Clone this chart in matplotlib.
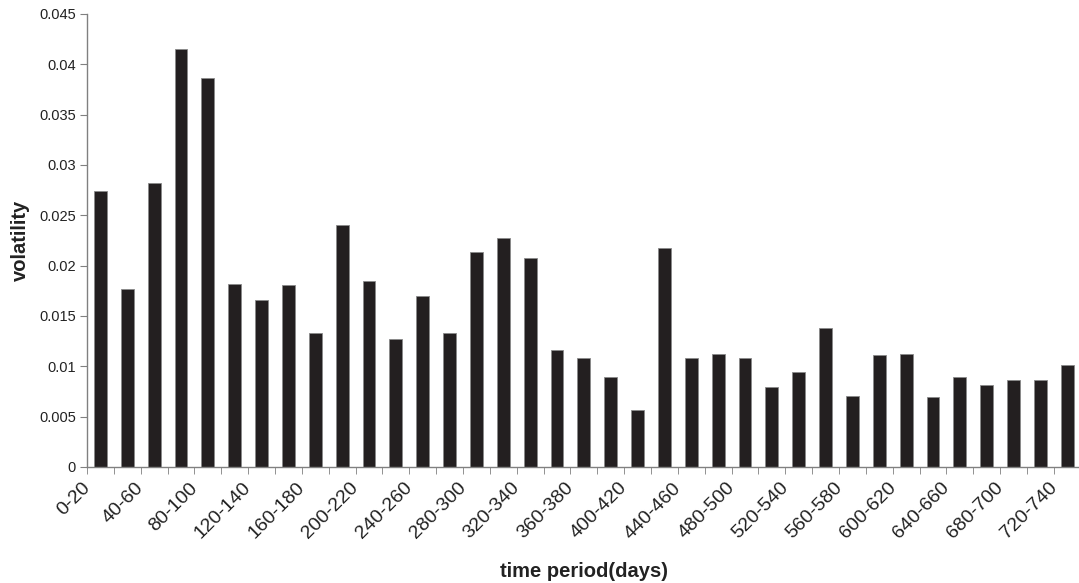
import matplotlib
matplotlib.use('Agg')
import matplotlib.pyplot as plt
import matplotlib.transforms as mtransforms
import numpy as np

plt.rcParams['font.family'] = ['Liberation Sans', 'DejaVu Sans']

# time periods (days), 20-day windows
periods = [f"{i * 20}-{i * 20 + 20}" for i in range(37)]
volatility = [0.0274, 0.0177, 0.0282, 0.0415, 0.0386, 0.0182, 0.0166, 0.0181, 0.0133,
              0.0240, 0.0185, 0.0127, 0.0170, 0.0133, 0.0214, 0.0227, 0.0208, 0.0116,
              0.0108, 0.0089, 0.0057, 0.0218, 0.0108, 0.0112, 0.0108, 0.0079, 0.0094,
              0.0138, 0.0071, 0.0111, 0.0112, 0.0070, 0.0089, 0.0081, 0.0086, 0.0086,
              0.0101]
y_ticks = [0, 0.005, 0.01, 0.015, 0.02, 0.025, 0.03, 0.035, 0.04, 0.045]

fig = plt.figure(figsize=(10.79, 5.83), dpi=100)
ax = fig.add_axes([0.0806, 0.199, 0.921, 0.777])

x = np.arange(len(periods))
ax.bar(x, volatility, width=0.48, color='#231f20', edgecolor='#8a8a8a', linewidth=0.6)

ax.set_xlim(-0.5, len(periods) - 0.5)
ax.set_ylim(0, 0.045)
ax.set_yticks(y_ticks)
ax.set_yticklabels([f"{t:g}" for t in y_ticks], fontsize=10.5, color='#222222')

# labels on every other category, ticks on the category boundaries
ax.set_xticks(x[::2])
ax.set_xticklabels(periods[::2], rotation=45, ha='right', rotation_mode='anchor',
                   fontsize=14, color='#222222')
ax.tick_params(axis='x', which='major', length=0, pad=6)
shift = mtransforms.ScaledTranslation(-0.19, -0.04, fig.dpi_scale_trans)
for lbl in ax.get_xticklabels():
    lbl.set_transform(lbl.get_transform() + shift)
ax.set_xticks(np.arange(len(periods) + 1) - 0.5, minor=True)
ax.tick_params(axis='x', which='minor', length=5, direction='out', color='#808080')
ax.tick_params(axis='y', length=5, direction='out', color='#808080', pad=3)

for side in ['top', 'right']:
    ax.spines[side].set_visible(False)
for side in ['left', 'bottom']:
    ax.spines[side].set_color('#808080')
    ax.spines[side].set_linewidth(1.0)

ax.set_ylabel('volatility', fontsize=14.5, fontweight='bold', color='#222222')
ax.yaxis.set_label_coords(-0.0674, 0.5)
ax.set_xlabel('time period(days)', fontsize=14.5, fontweight='bold', color='#222222')
ax.xaxis.set_label_coords(0.5, -0.23)
ax.xaxis.label.set_va('center')
ax.yaxis.label.set_va('center')

fig.savefig('out.png', dpi=100)
